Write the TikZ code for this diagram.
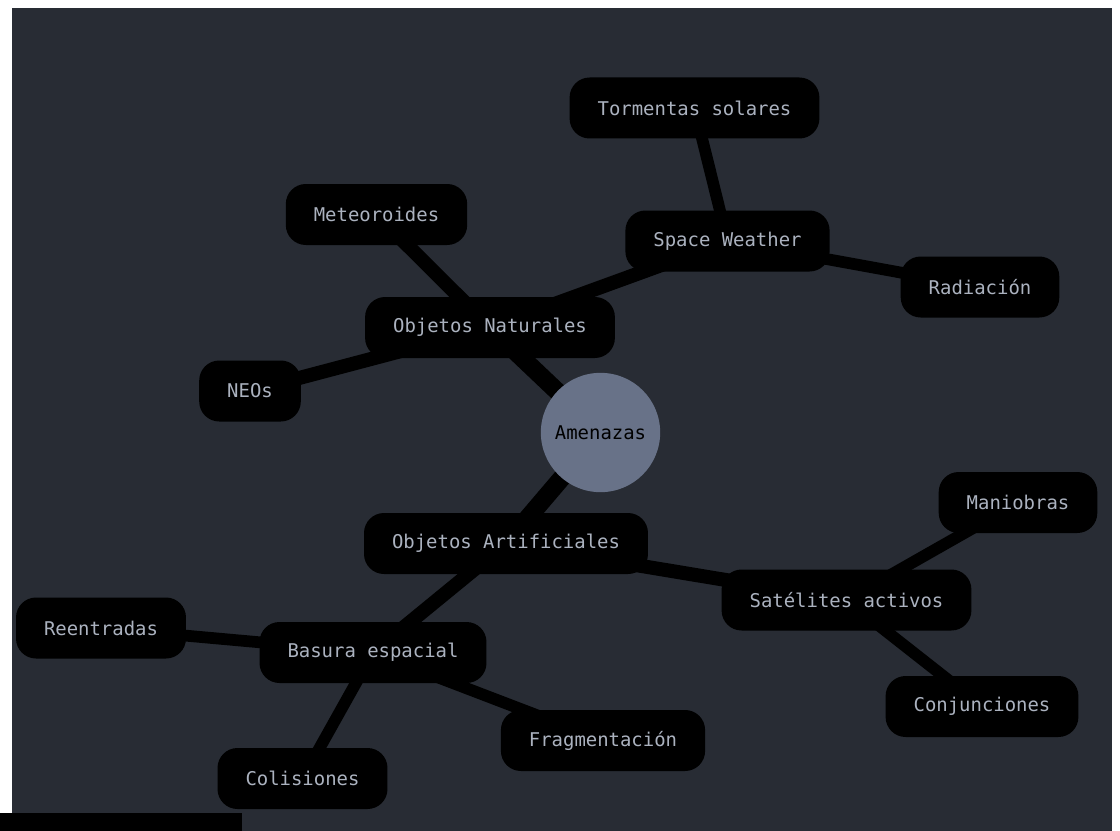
\documentclass[tikz,border=0pt]{standalone}
\usepackage{fontspec}
\setmonofont{DejaVu Sans Mono}
\definecolor{pizarra}{RGB}{40,44,52}
\definecolor{raiz}{RGB}{104,114,136}
\definecolor{texto}{RGB}{171,178,191}
\pgfdeclarelayer{fondo}
\pgfdeclarelayer{lineas}
\pgfsetlayers{fondo,lineas,main}
\tikzset{
  hoja/.style={fill=black, text=texto, rounded corners=15pt, inner xsep=21pt, inner ysep=0pt,
    minimum height=45.75pt, font=\ttfamily\fontsize{14.2pt}{17pt}\selectfont},
  centro/.style={circle, fill=raiz, text=black, minimum size=89.5pt, inner sep=0pt,
    font=\ttfamily\fontsize{14.2pt}{17pt}\selectfont},
  rama/.style={line width=13.5pt},
  ramita/.style={line width=10.5pt},
  ramilla/.style={line width=8.8pt},
}

\begin{document}
\begin{tikzpicture}[x=0.75pt, y=-0.75pt]
    \useasboundingbox (0,0) rectangle (1120,831);
    \begin{pgfonlayer}{fondo}
      \fill[white] (0,0) rectangle (1120,831);
      \fill[pizarra] (12,8) rectangle (1112,831);
      \fill[black] (0,813) rectangle (242,831);
    \end{pgfonlayer}

    \node[centro] (A) at (600.5,432.5) {Amenazas};

    \node[hoja] (N) at (490,327.5) {Objetos Naturales};
    \node[hoja] (M) at (376.5,214.5) {Meteoroides};
    \node[hoja] (E) at (250,391) {NEOs};
    \node[hoja] (W) at (727.5,241) {Space Weather};
    \node[hoja] (T) at (694.5,108) {Tormentas solares};
    \node[hoja] (R) at (980,287) {Radiación};

    \node[hoja] (O) at (506,543.5) {Objetos Artificiales};
    \node[hoja] (S) at (846.5,600) {Satélites activos};
    \node[hoja] (X) at (1018,502.5) {Maniobras};
    \node[hoja] (C) at (982,706.5) {Conjunciones};
    \node[hoja] (B) at (373,652.5) {Basura espacial};
    \node[hoja] (Q) at (101,628) {Reentradas};
    \node[hoja] (F) at (603,740.5) {Fragmentación};
    \node[hoja] (K) at (302.5,778.5) {Colisiones};

    \begin{pgfonlayer}{lineas}
      \draw[rama] (A.center) -- (N.center);
      \draw[rama] (A.center) -- (O.center);
      \draw[ramita] (N.center) -- (M.center);
      \draw[ramita] (N.center) -- (E.center);
      \draw[ramita] (N.center) -- (W.center);
      \draw[ramilla] (W.center) -- (T.center);
      \draw[ramilla] (W.center) -- (R.center);
      \draw[ramita] (O.center) -- (S.center);
      \draw[ramita] (O.center) -- (B.center);
      \draw[ramilla] (S.center) -- (X.center);
      \draw[ramilla] (S.center) -- (C.center);
      \draw[ramilla] (B.center) -- (Q.center);
      \draw[ramilla] (B.center) -- (F.center);
      \draw[ramilla] (B.center) -- (K.center);
    \end{pgfonlayer}
  \end{tikzpicture}
\end{document}
